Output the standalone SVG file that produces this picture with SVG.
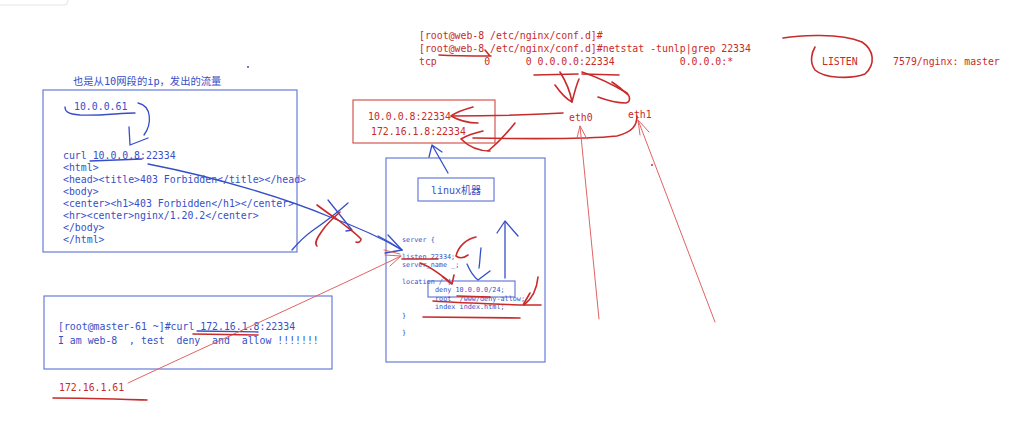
<svg xmlns="http://www.w3.org/2000/svg" width="1024" height="433" viewBox="0 0 1024 433">
<style>
.mono{font-family:"DejaVu Sans Mono","Liberation Mono","Noto Sans CJK SC",monospace;}
.tb{fill:#364fc7;font-size:9.85px;}
.tr{fill:#c92a2a;font-size:9.85px;}
.ts{fill:#364fc7;font-size:6.8px;}
.bbox{fill:none;stroke:#5a6fd6;stroke-width:1.1;}
.rbox{fill:none;stroke:#d0483f;stroke-width:1.1;}
.sb{fill:none;stroke:#364fc7;stroke-width:1.3;stroke-linecap:round;stroke-linejoin:round;}
.sr{fill:none;stroke:#c92a2a;stroke-width:1.6;stroke-linecap:round;stroke-linejoin:round;}
.sr2{fill:none;stroke:#e06464;stroke-width:1;stroke-linecap:round;stroke-linejoin:round;}
</style>
<rect width="1024" height="433" fill="#ffffff"/>
<rect x="-10" y="-10" width="78" height="15" rx="4" fill="#ffffff" stroke="#e4e4e4" stroke-width="1"/>

<g id="node-client-10">
<text class="mono" x="73" y="85" fill="#364fc7" font-size="10.3">也是从10网段的ip，发出的流量</text>
<rect class="bbox" x="43" y="90" width="254" height="162"/>
<text class="mono tb" x="74" y="110">10.0.0.61</text>
<text class="mono tb" x="63" y="159">curl 10.0.0.8:22334</text>
<text class="mono tb" x="63" y="171">&lt;html&gt;</text>
<text class="mono tb" x="63" y="183">&lt;head&gt;&lt;title&gt;403 Forbidden&lt;/title&gt;&lt;/head&gt;</text>
<text class="mono tb" x="63" y="195">&lt;body&gt;</text>
<text class="mono tb" x="63" y="207">&lt;center&gt;&lt;h1&gt;403 Forbidden&lt;/h1&gt;&lt;/center&gt;</text>
<text class="mono tb" x="63" y="219">&lt;hr&gt;&lt;center&gt;nginx/1.20.2&lt;/center&gt;</text>
<text class="mono tb" x="63" y="231">&lt;/body&gt;</text>
<text class="mono tb" x="63" y="243">&lt;/html&gt;</text>
</g>

<g id="node-terminal">
<text class="mono tr" x="419" y="39">[root@web-8 /etc/nginx/conf.d]#</text>
<text class="mono tr" x="419" y="52">[root@web-8 /etc/nginx/conf.d]#netstat -tunlp|grep 22334</text>
<text class="mono tr" x="419" y="65" xml:space="preserve">tcp        0      0 0.0.0.0:22334           0.0.0.0:*               LISTEN      7579/nginx: master</text>
</g>

<g id="node-listen-addrs">
<rect class="rbox" x="353" y="100" width="142" height="43"/>
<text class="mono tr" x="368" y="120">10.0.0.8:22334</text>
<text class="mono tr" x="371" y="135">172.16.1.8:22334</text>
</g>

<g id="node-eth0"><text class="mono tr" x="569" y="121">eth0</text></g>
<g id="node-eth1"><text class="mono tr" x="628" y="118">eth1</text></g>

<g id="node-linux">
<rect class="bbox" x="386" y="158" width="159" height="204"/>
<rect class="bbox" x="418" y="178" width="76" height="23"/>
<text class="mono" x="456" y="194" fill="#364fc7" font-size="10" text-anchor="middle">linux机器</text>
<text class="mono ts" x="402" y="241.5">server {</text>
<text class="mono ts" x="402" y="259">listen 22334;</text>
<text class="mono ts" x="402" y="267">server_name _;</text>
<text class="mono ts" x="402" y="283.5">location / {</text>
<rect class="bbox" x="428" y="281" width="87" height="16"/>
<text class="mono ts" x="435" y="292">deny 10.0.0.0/24;</text>
<text class="mono ts" x="435" y="300.5" xml:space="preserve">root  /www/deny-allow;</text>
<text class="mono ts" x="435" y="309">index index.html;</text>
<text class="mono ts" x="402" y="317.5">}</text>
<text class="mono ts" x="402" y="334.5">}</text>
</g>

<g id="node-client-172">
<rect class="bbox" x="44" y="296" width="288" height="73"/>
<text class="mono tb" x="58" y="330">[root@master-61 ~]#curl 172.16.1.8:22334</text>
<text class="mono tb" x="58" y="344" xml:space="preserve">I am web-8  , test  deny  and  allow !!!!!!!</text>
</g>

<g id="node-ip-172">
<text class="mono tr" x="59" y="391">172.16.1.61</text>
</g>

<g id="connectors">
<!-- blue marks on left -->
<path class="sb" d="M65,107 C65,111 67,114 80,115 C100,116 120,113 135,113"/>
<path class="sb" d="M138,103 C152,106 152,124 144,135"/>
<path class="sb" d="M129,127 L130,145 L148,138"/>
<path class="sb" d="M90,161 L142,159"/>
<path class="sb" d="M148,164 C220,178 290,200 330,217 C360,228 385,240 402,250"/>
<path class="sb" stroke-width="2.2" d="M378,236 C388,241 396,246 402,250"/>
<path class="sb" d="M388,235 L402,250 L385,253"/>
<path class="sb" d="M292,250 C298,243 305,236 312,231 C325,222 338,212 348,203"/>
<path class="sb" d="M328,200 C336,210 344,220 352,230 L346,231"/>
<path class="sb" d="M197,331 L258,332"/>
<!-- red X -->
<path class="sr" d="M317,205 C325,211 332,216 338,220 C348,228 356,233 361,239 C361,242 358,243 356,242"/>
<path class="sr" d="M340,212 C332,219 326,225 322,231 C317,238 314,243 317,246"/>
<!-- terminal underlines -->
<path class="sr" d="M439,55 C455,56 475,56 491,56 M485,50 L490,56"/>
<path class="sr" stroke-width="2" d="M534,75 L578,74"/>
<path class="sr" d="M582,74 L619,75"/>
<path class="sr" d="M560,72 C565,80 570,90 572,102"/>
<path class="sr" d="M555,85 C560,92 566,99 572,102 C574,94 576,86 579,79"/>
<path class="sr" d="M582,72 C594,76 612,84 627,93 C631,98 630,102 626,103 C616,103 606,100 598,97"/>
<path class="sr" d="M612,82 C618,86 623,90 627,94"/>
<path class="sr" d="M783,38 C800,35 840,33 862,42 C874,50 876,64 865,74 C852,79 825,79 815,70 C809,62 812,52 815,47"/>
<!-- eth0 -> 10.0.0.8 -->
<path class="sr" d="M563,113 C530,115 490,116 452,116"/>
<path class="sr" d="M473,107 C462,110 455,113 451,116 C458,120 467,123 478,123"/>
<!-- eth1 -> 172.16.1.8 -->
<path class="sr" d="M637,116 C637,126 632,132 617,136 C590,139 530,139 473,138"/>
<path class="sr" d="M483,131 C474,133 466,136 461,139 C468,146 478,151 490,151"/>
<path class="sr" d="M515,123 C507,133 498,143 488,151"/>
<!-- blue arrow linux -> box -->
<path class="sb" stroke-width="1" stroke="#5a6fd6" d="M448,173 L432,145 M429,157 L432,145 L442,152"/>
<!-- inside linux box -->
<path class="sr" d="M476,237 C466,239 458,247 456,256 C460,259 464,258 468,255"/>
<path class="sr" stroke-width="2" d="M402,259 L438,259"/>
<path class="sr" d="M420,263 C430,266 440,274 451,283"/>
<path class="sr" d="M443,277 L452,284 L454,275"/>
<path class="sr" d="M457,296 L490,297"/>
<path class="sr" d="M433,301 C460,303 495,304 522,305"/>
<path class="sr" d="M423,317 L520,318"/>
<path class="sr" d="M538,277 C537,288 533,298 524,305"/>
<path class="sr" d="M530,293 L523,305 L541,305"/>
<path class="sb" d="M481,248 C480,255 480,262 479,268"/>
<path class="sb" d="M467,264 C470,271 474,277 478,280 C482,277 486,274 490,271"/>
<path class="sb" d="M505,278 L505,222"/>
<path class="sb" d="M497,233 L505,221 L518,236"/>
<!-- 172.16.1.61 -> listen -->
<path class="sr2" d="M128,383 C220,340 320,295 401,256"/>
<path class="sr2" d="M385,255 L401,256 L390,266"/>
<path class="sr2" d="M384,250 L400,254"/>
<path class="sr" d="M193,334 L258,335"/>
<path class="sr" d="M53,398 C85,398 115,399 147,400"/>
<!-- long arrows to eth0 / eth1 -->
<path class="sr2" d="M599,319 L580,126"/>
<path class="sr2" d="M577,138 L580,126 L587,139"/>
<path class="sr2" d="M715,322 L638,120"/>
<path class="sr2" d="M640,135 L638,120 L649,132"/>
</g>
<circle cx="652" cy="165" r="1" fill="#c92a2a"/>
<circle cx="248" cy="67" r="1" fill="#364fc7"/>
</svg>
